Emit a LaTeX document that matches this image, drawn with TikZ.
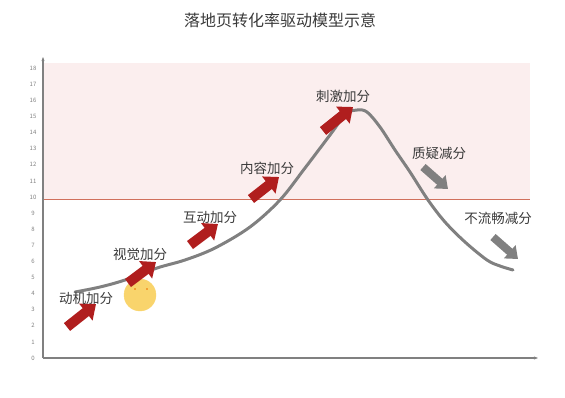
\documentclass[tikz,border=0pt]{standalone}
\usepackage{fontspec}
\setmainfont{Noto Sans CJK SC}
\usepackage{tikz}
\usetikzlibrary{arrows.meta}

\definecolor{curvegray}{HTML}{808080}
\definecolor{boostred}{HTML}{B01E1E}
\definecolor{pinkzone}{HTML}{FBEEEE}
\definecolor{limitred}{HTML}{D0705C}
\definecolor{smiley}{HTML}{F9D46C}
\definecolor{labeltext}{HTML}{3A3A3A}

\tikzset{
    plus/.style={boostred, line width=10pt, -{Triangle[width=21pt, length=13pt]}},
    minus/.style={curvegray, line width=8pt, -{Triangle[width=17pt, length=11pt]}},
    tag/.style={text=labeltext, font=\fontsize{13.5}{13.5}\selectfont, inner sep=0pt}
}

\begin{document}
\begin{tikzpicture}[x=1pt, y=-1pt]
    \useasboundingbox (0,0) rectangle (565,397);

    % title
    \node[text=labeltext, font=\fontsize{16}{16}\selectfont] (title) at (280,20) {落地页转化率驱动模型示意};

    % zone above 10
    \fill[pinkzone] (44,63) rectangle (530,199);
    \draw[limitred, line width=1pt] (44,199.5) -- (530,199.5);

    % axes
    \draw[gray, line width=1.2pt, -{Stealth[length=4pt]}] (43,358) -- (43,57);
    \draw[gray, line width=1.2pt, -{Stealth[length=4pt]}] (43,358) -- (538,358);
    \foreach \i in {0,...,18}
        \node[gray, font=\fontsize{6}{6}\selectfont] at (33,358-16.1*\i) {\i};

    % smiley
    \filldraw[smiley] (140,295) circle (16);
    \filldraw[orange!80!brown] (135,289) circle (0.7) (147,289) circle (0.7);

    % curve
    \draw[curvegray, line width=3pt, line cap=round] plot[smooth, tension=0.55] coordinates {
        (75,292) (100,287) (125,280) (157,268) (185,260) (215,248) (250,227)
        (280,200) (305,168) (330,135) (346,114) (357,110) (367,112)
        (380,127) (395,150) (410,172) (428,200) (445,222) (465,242) (487,260)
        (500,266) (513,270)};

    % plus arrows
    \draw[plus] (67,327) -- (96,304);
    \draw[plus] (128,283) -- (156,262);
    \draw[plus] (190,245) -- (218,224);
    \draw[plus] (251,199) -- (279,177);
    \draw[plus] (323,131) -- (353,107);

    % minus arrows
    \draw[minus] (423,167) -- (448,189);
    \draw[minus] (493,237) -- (518,259);

    % labels
    \node[tag] (motive) at (86,298) {动机加分};
    \node[tag] (visual) at (140,254) {视觉加分};
    \node[tag] (interact) at (210,217) {互动加分};
    \node[tag] (content) at (267,168) {内容加分};
    \node[tag] (stimulus) at (343,96) {刺激加分};
    \node[tag] (doubt) at (439,153) {质疑减分};
    \node[tag] (fluency) at (498,218) {不流畅减分};
\end{tikzpicture}
\end{document}
